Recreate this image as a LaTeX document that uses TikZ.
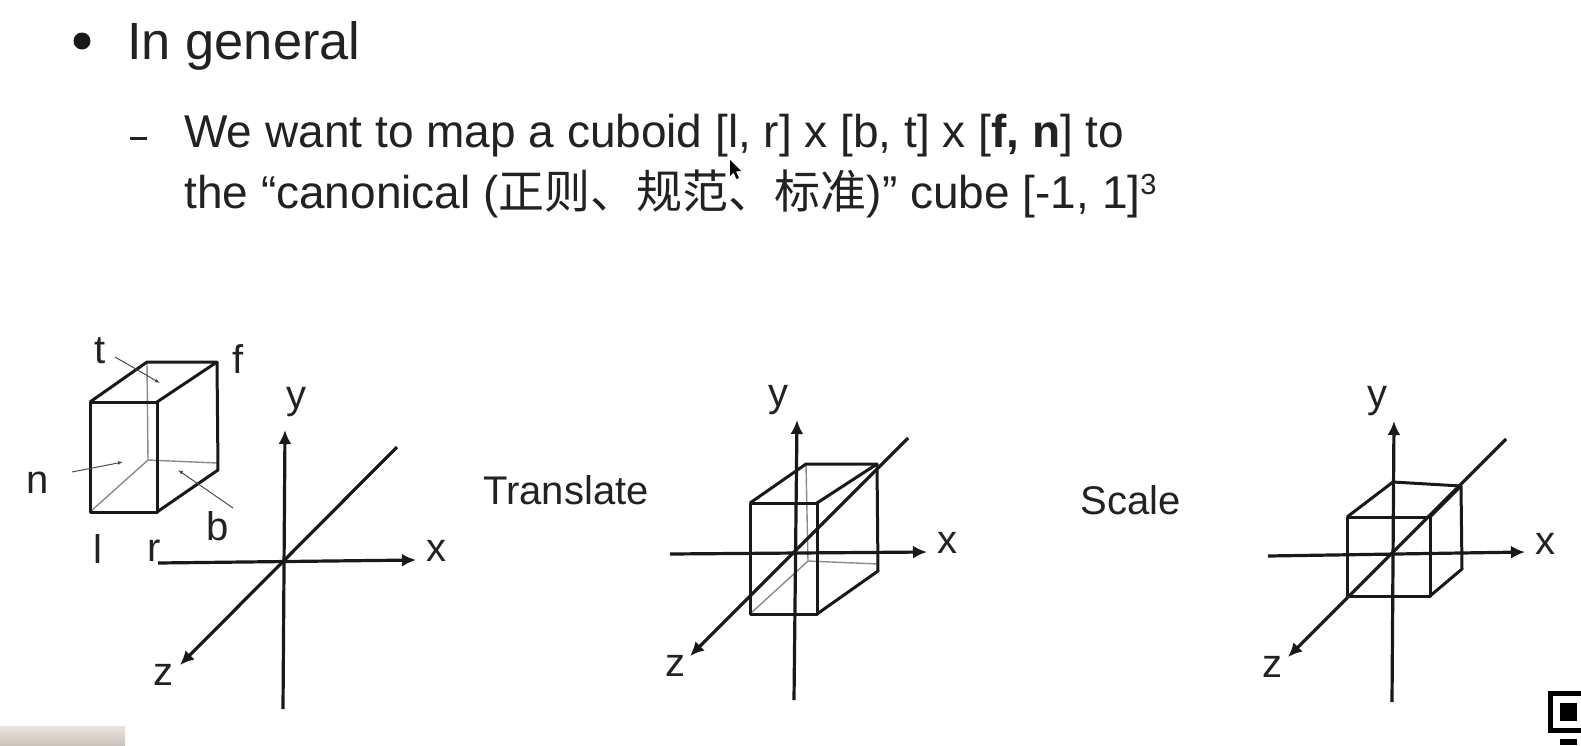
\documentclass[tikz,border=0pt]{standalone}
\usepackage{fontspec}
\setmainfont{Liberation Sans}
\newfontfamily\cjkfont{Noto Sans CJK SC}
\usetikzlibrary{arrows.meta}
\definecolor{textgray}{HTML}{222222}
\definecolor{hiddengray}{HTML}{8A8A8A}
\definecolor{blobtop}{HTML}{E8E5DF}
\definecolor{blobbottom}{HTML}{CAC4BA}
\tikzset{
  headtext/.style={anchor=base west,inner sep=0pt,text=textgray,font=\fontsize{26.2}{30}\selectfont},
  bodytext/.style={anchor=base west,inner sep=0pt,text=textgray,font=\fontsize{23}{27}\selectfont},
  axislabel/.style={inner sep=0pt,text=textgray,font=\fontsize{20}{24}\selectfont},
  axisline/.style={line width=1.6pt,black!90},
  axisarrow/.style={axisline,-{Latex[length=7pt,width=6.5pt]}},
  cubeedge/.style={line width=1.5pt,black!90,line join=round},
  hiddenedge/.style={line width=0.7pt,hiddengray},
  thinarrow/.style={line width=0.5pt,black!70,-{Latex[length=2.5pt,width=2pt]}}
}
\begin{document}
\begin{tikzpicture}[x=0.5pt,y=-0.5pt]
  \useasboundingbox (0,0) rectangle (1581,745);
  % text
  \fill[black!90] (82,41) circle (8.5);
  \node (headline) at (127,59) [headtext] {In general};
  \fill[textgray] (130,137) rectangle (147,140);
  \node (lineone) at (184,147) [bodytext] {We want to map a cuboid [l, r] x [b, t] x [\textbf{f, n}] to};
  \node (linetwo) at (184,208) [bodytext] {the “canonical (\cjkfont 正则、规范、标准\normalfont)” cube [-1, 1]\raisebox{0.55ex}{\fontsize{14.5}{16}\selectfont 3}};
  \fill[black] (730,160) -- (730,176) -- (733.5,172.5) -- (736.5,179) -- (739,178) -- (736,171.5) -- (741,171) -- cycle;
  % first cuboid
  \coordinate (cubeAfl) at (90,402);
  \coordinate (cubeAfr) at (157,402);
  \coordinate (cubeAnl) at (90,512);
  \coordinate (cubeAnr) at (157,512);
  \coordinate (cubeAbl) at (147,362);
  \coordinate (cubeAbr) at (217,362);
  \coordinate (cubeAdr) at (218,470);
  \coordinate (cubeAin) at (148,460);
  \coordinate (cubeAig) at (217,463);
  \draw[hiddenedge] (cubeAbl) -- (cubeAin) -- (cubeAig);
  \draw[hiddenedge] (cubeAin) -- (cubeAnl);
  \draw[cubeedge] (cubeAfl) rectangle (cubeAnr);
  \draw[cubeedge] (cubeAfl) -- (cubeAbl) -- (cubeAbr) -- (cubeAdr) -- (cubeAnr);
  \draw[cubeedge] (cubeAfr) -- (cubeAbr);
  \node (labelt) at (100,351) [axislabel] {t};
  \node (labelf) at (238,359) [axislabel] {f};
  \node (labeln) at (38,483) [axislabel] {n};
  \node (labelb) at (218,526) [axislabel] {b};
  \node (labell) at (98,549) [axislabel] {l};
  \node (labelr) at (154,551) [axislabel] {r};
  \coordinate (tfrom) at (115,357);
  \coordinate (tto) at (160,383);
  \coordinate (nfrom) at (72,472);
  \coordinate (nto) at (123,462);
  \coordinate (bfrom) at (233,508);
  \coordinate (bto) at (178,470);
  \draw[thinarrow] (tfrom) -- (tto);
  \draw[thinarrow] (nfrom) -- (nto);
  \draw[thinarrow] (bfrom) -- (bto);
  % first axes
  \coordinate (xAs) at (158,563);
  \coordinate (xAe) at (416,560);
  \coordinate (yAs) at (283,709);
  \coordinate (yAe) at (285,430);
  \coordinate (zAs) at (397,447);
  \coordinate (zAe) at (180,665);
  \draw[axisarrow] (xAs) -- (xAe);
  \draw[axisarrow] (yAs) -- (yAe);
  \draw[axisarrow] (zAs) -- (zAe);
  \node (xlabelA) at (436,551) [axislabel] {x};
  \node (ylabelA) at (296,402) [axislabel] {y};
  \node (zlabelA) at (163,675) [axislabel] {z};
  % translate
  \node (translate) at (566,490) [axislabel] {Translate};
  \coordinate (cubeBfl) at (750,503);
  \coordinate (cubeBfr) at (817,503);
  \coordinate (cubeBnl) at (750,614);
  \coordinate (cubeBnr) at (817,614);
  \coordinate (cubeBbl) at (806,464);
  \coordinate (cubeBbr) at (877,464);
  \coordinate (cubeBdr) at (878,571);
  \coordinate (cubeBin) at (808,561);
  \coordinate (cubeBig) at (878,564);
  \draw[hiddenedge] (cubeBbl) -- (cubeBin) -- (cubeBig);
  \draw[hiddenedge] (cubeBin) -- (cubeBnl);
  \draw[cubeedge] (cubeBfl) rectangle (cubeBnr);
  \draw[cubeedge] (cubeBfl) -- (cubeBbl) -- (cubeBbr) -- (cubeBdr) -- (cubeBnr);
  \draw[cubeedge] (cubeBfr) -- (cubeBbr);
  \coordinate (xBs) at (670,554);
  \coordinate (xBe) at (927,552);
  \coordinate (yBs) at (794,700);
  \coordinate (yBe) at (797,420);
  \coordinate (zBs) at (908,438);
  \coordinate (zBe) at (690,656);
  \draw[axisarrow] (xBs) -- (xBe);
  \draw[axisarrow] (yBs) -- (yBe);
  \draw[axisarrow] (zBs) -- (zBe);
  \node (xlabelB) at (947,543) [axislabel] {x};
  \node (ylabelB) at (778,400) [axislabel] {y};
  \node (zlabelB) at (675,666) [axislabel] {z};
  % scale
  \node (scale) at (1131,500) [axislabel] {Scale};
  \coordinate (cubeCfl) at (1347,517);
  \coordinate (cubeCfr) at (1430,517);
  \coordinate (cubeCnl) at (1347,596);
  \coordinate (cubeCnr) at (1430,596);
  \coordinate (cubeCbl) at (1393,482);
  \coordinate (cubeCbr) at (1461,486);
  \coordinate (cubeCdr) at (1462,569);
  \draw[cubeedge] (cubeCfl) rectangle (cubeCnr);
  \draw[cubeedge] (cubeCfl) -- (cubeCbl) -- (cubeCbr) -- (cubeCdr) -- (cubeCnr);
  \draw[cubeedge] (cubeCfr) -- (cubeCbr);
  \coordinate (xCs) at (1268,556);
  \coordinate (xCe) at (1525,552);
  \coordinate (yCs) at (1392,702);
  \coordinate (yCe) at (1394,421);
  \coordinate (zCs) at (1506,439);
  \coordinate (zCe) at (1288,657);
  \draw[axisarrow] (xCs) -- (xCe);
  \draw[axisarrow] (yCs) -- (yCe);
  \draw[axisarrow] (zCs) -- (zCe);
  \node (xlabelC) at (1545,544) [axislabel] {x};
  \node (ylabelC) at (1377,401) [axislabel] {y};
  \node (zlabelC) at (1272,667) [axislabel] {z};
  % corner bits of the video frame
  \fill[black] (1548,691) rectangle (1581,733);
  \fill[white] (1553,696) rectangle (1581,728);
  \fill[black] (1560,703) rectangle (1577,721);
  \fill[black] (1560,739) rectangle (1577,745);
  \shade[top color=blobtop,bottom color=blobbottom] (0,726) rectangle (125,745);
\end{tikzpicture}
\end{document}
